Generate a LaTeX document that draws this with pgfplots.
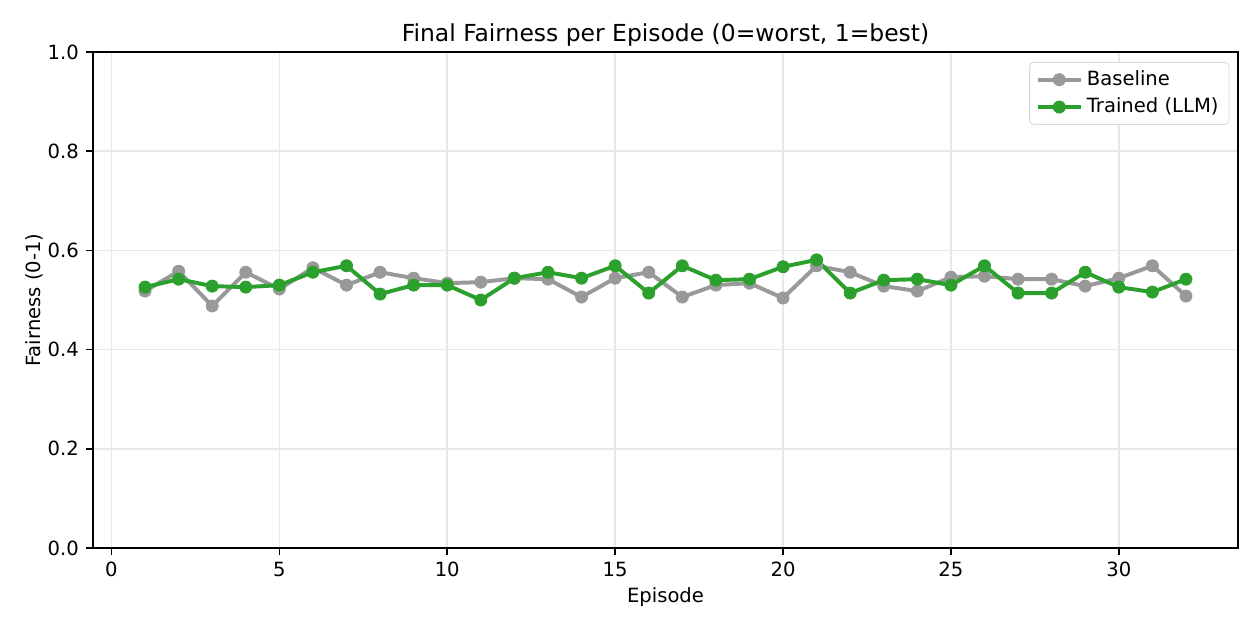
\documentclass[border=0pt]{standalone}
\usepackage{pgfplots}
\pgfplotsset{compat=1.18}
\usepackage{fontspec}
\setmainfont{DejaVu Sans}
\definecolor{mgreen}{HTML}{2CA02C}
\definecolor{mgray}{HTML}{999999}
\begin{document}
\begin{tikzpicture}
\begin{axis}[
  name=ax,
  scale only axis=true,
  width=549.6pt, height=238.1pt,
  xmin=-0.55, xmax=33.55, ymin=0, ymax=1,
  xtick={0,5,...,30}, ytick={0,0.2,...,1.0},
  /pgf/number format/assume math mode=true,
  yticklabel style={/pgf/number format/.cd,fixed,fixed zerofill,precision=1},
  tick label style={font=\fontsize{9.4}{11}\selectfont},
  tick align=outside, tick pos=left,
  major tick length=3.3pt,
  every tick/.style={black, line width=0.75pt},
  axis line style={line width=0.75pt},
  grid=major, grid style={black!9, line width=0.75pt},
  xlabel={Episode}, ylabel={Fairness (0-1)},
  label style={font=\fontsize{9.4}{11}\selectfont},
  xlabel style={yshift=2pt},
  ylabel style={yshift=-4.5pt},
  title={Final Fairness per Episode (0=worst, 1=best)},
  title style={font=\fontsize{11.25}{13}\selectfont, yshift=-7pt},
  legend style={at={(0.9925,0.98)}, anchor=north east, draw=black!15, rounded corners=2pt, font=\fontsize{9.4}{11}\selectfont, inner xsep=3pt, inner ysep=2pt, row sep=0.5pt},
  legend cell align=left,
  legend image code/.code={\draw[mark repeat=2,mark phase=2] plot coordinates {(0pt,0pt)(10.3pt,0pt)(20.6pt,0pt)};},
]
\addplot[mgray, line width=1.9pt, mark=*, mark size=2.9pt, mark options={solid, fill=mgray, draw=mgray, line width=0.4pt}] coordinates {
(1,0.518)(2,0.558)(3,0.488)(4,0.556)(5,0.522)(6,0.565)(7,0.530)(8,0.556)(9,0.544)(10,0.534)
(11,0.536)(12,0.544)(13,0.542)(14,0.506)(15,0.544)(16,0.556)(17,0.506)(18,0.530)(19,0.534)(20,0.504)
(21,0.569)(22,0.556)(23,0.528)(24,0.518)(25,0.546)(26,0.548)(27,0.542)(28,0.542)(29,0.528)(30,0.544)
(31,0.569)(32,0.508)};
\addlegendentry{Baseline}
\addplot[mgreen, line width=1.9pt, mark=*, mark size=2.9pt, mark options={solid, fill=mgreen, draw=mgreen, line width=0.4pt}] coordinates {
(1,0.526)(2,0.542)(3,0.528)(4,0.526)(5,0.530)(6,0.556)(7,0.569)(8,0.512)(9,0.530)(10,0.530)
(11,0.500)(12,0.544)(13,0.556)(14,0.544)(15,0.569)(16,0.514)(17,0.569)(18,0.540)(19,0.542)(20,0.567)
(21,0.581)(22,0.514)(23,0.540)(24,0.542)(25,0.530)(26,0.569)(27,0.514)(28,0.514)(29,0.556)(30,0.526)
(31,0.516)(32,0.542)};
\addlegendentry{Trained (LLM)}
\end{axis}
\pgfresetboundingbox
\path[use as bounding box] ([shift={(-44.64pt,-39.36pt)}]ax.south west) rectangle ([shift={(10.56pt,24.96pt)}]ax.north east);
\end{tikzpicture}
\end{document}
